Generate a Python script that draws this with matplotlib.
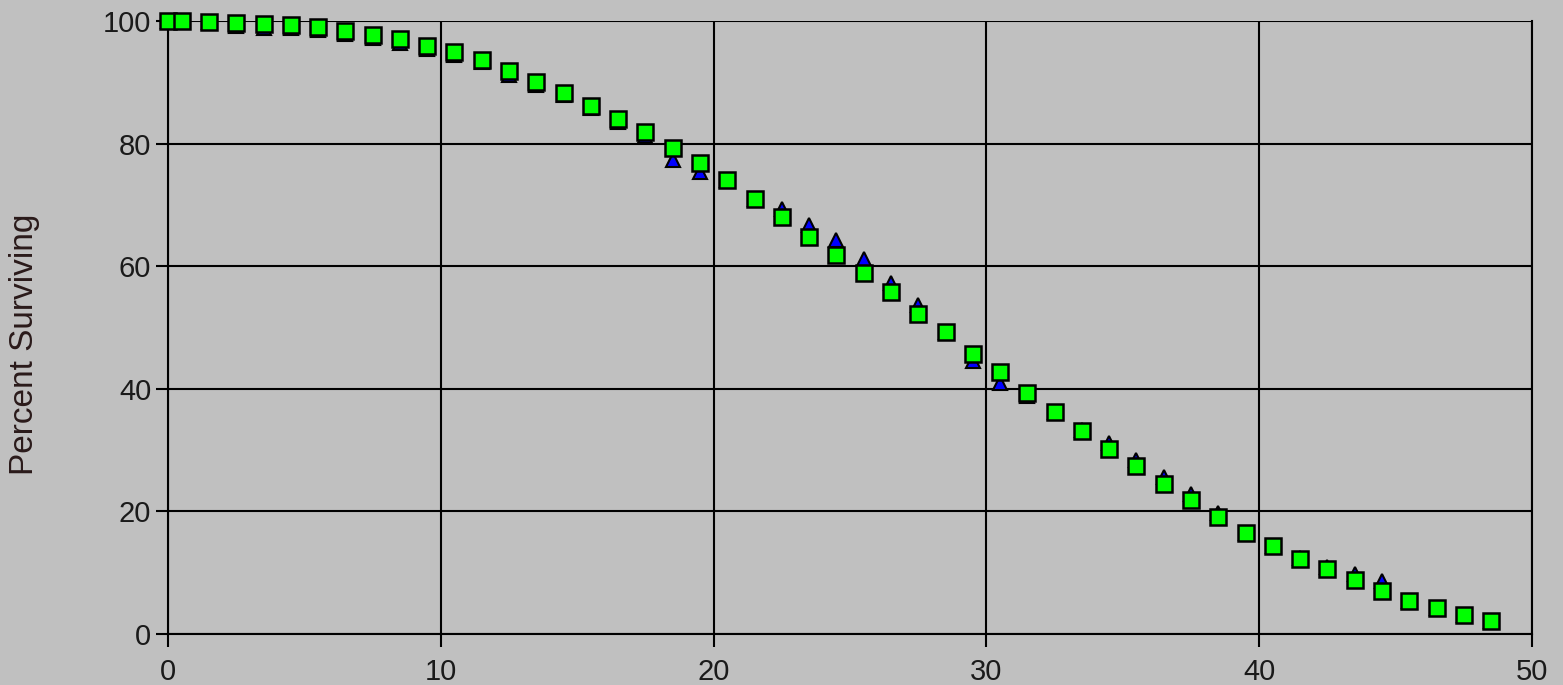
import numpy as np
import matplotlib
matplotlib.use("Agg")
import matplotlib.pyplot as plt

## Data
age = [0, 0.5, 1.5, 2.5, 3.5, 4.5, 5.5, 6.5, 7.5, 8.5, 9.5, 10.5, 11.5, 12.5,
       13.5, 14.5, 15.5, 16.5, 17.5, 18.5, 19.5, 20.5, 21.5, 22.5, 23.5, 24.5,
       25.5, 26.5, 27.5, 28.5, 29.5, 30.5, 31.5, 32.5, 33.5, 34.5, 35.5, 36.5,
       37.5, 38.5, 39.5, 40.5, 41.5, 42.5, 43.5, 44.5, 45.5, 46.5, 47.5, 48.5]

## observed survival (blue triangles, mostly hidden behind the squares)
observed = [100, 100, 99.8, 99.2, 98.9, 98.9, 98.6, 97.9, 97.2, 96.4, 95.4,
            94.4, 93.3, 91.2, 89.6, 88.0, 85.8, 83.6, 81.3, 77.3, 75.3, 74.1,
            71.0, 69.3, 66.8, 64.2, 61.2, 57.2, 53.6, 49.3, 44.6, 41.0, 38.8,
            36.2, 33.3, 31.2, 28.4, 25.6, 22.8, 19.8, 16.5, 14.4, 12.4, 11.0,
            9.8, 8.6, 5.4, 4.2, 3.1, 2.1]

## model survival (green squares)
model = [100, 100, 99.9, 99.6, 99.5, 99.3, 99.0, 98.4, 97.8, 97.1, 95.9,
         94.9, 93.6, 91.8, 90.0, 88.3, 86.1, 84.0, 81.9, 79.3, 76.8, 74.1,
         71.0, 68.0, 64.8, 61.8, 58.9, 55.8, 52.2, 49.3, 45.7, 42.7, 39.3,
         36.2, 33.1, 30.2, 27.4, 24.5, 21.9, 19.1, 16.5, 14.4, 12.2, 10.6,
         8.8, 7.0, 5.4, 4.2, 3.1, 2.1]

x_ticks = [0, 10, 20, 30, 40, 50]
y_ticks = [0, 20, 40, 60, 80, 100]

bg = '#c0c0c0'
plt.rcParams['font.family'] = ['Liberation Sans', 'DejaVu Sans']

fig = plt.figure(figsize=(15.63, 6.85), dpi=100, facecolor=bg)
ax = fig.add_axes([0.1075, 0.0745, 0.8727, 0.8948])
ax.set_facecolor(bg)

## triangles first so the squares sit on top
ax.plot(age, observed, linestyle='none', marker='^', markersize=10,
        markerfacecolor='#0000ff', markeredgecolor='black', markeredgewidth=1.5,
        clip_on=False, zorder=3)
ax.plot(age, model, linestyle='none', marker='s', markersize=11,
        markerfacecolor='#00ff00', markeredgecolor='black', markeredgewidth=1.8,
        clip_on=False, zorder=4)

ax.set_xlim(0, 50)
ax.set_ylim(0, 100)
ax.set_xticks(x_ticks)
ax.set_yticks(y_ticks)
ax.grid(True, color='black', linewidth=1.5)
ax.set_axisbelow(True)

for side in ['left', 'bottom', 'right']:
    ax.spines[side].set_color('black')
    ax.spines[side].set_linewidth(1.5)
ax.spines['top'].set_visible(False)

ax.tick_params(axis='x', direction='out', length=9, width=1.5, pad=8,
               labelsize=21, colors='black', labelcolor='#1a1a1a')
ax.tick_params(axis='y', direction='out', length=9, width=1.5, pad=3,
               labelsize=21, colors='black', labelcolor='#1a1a1a')

ax.set_ylabel('Percent Surviving', fontsize=24, color='#2a1a1a')
ax.yaxis.set_label_coords(-0.094, 0.473)

fig.savefig('out.png', dpi=100, facecolor=bg)
